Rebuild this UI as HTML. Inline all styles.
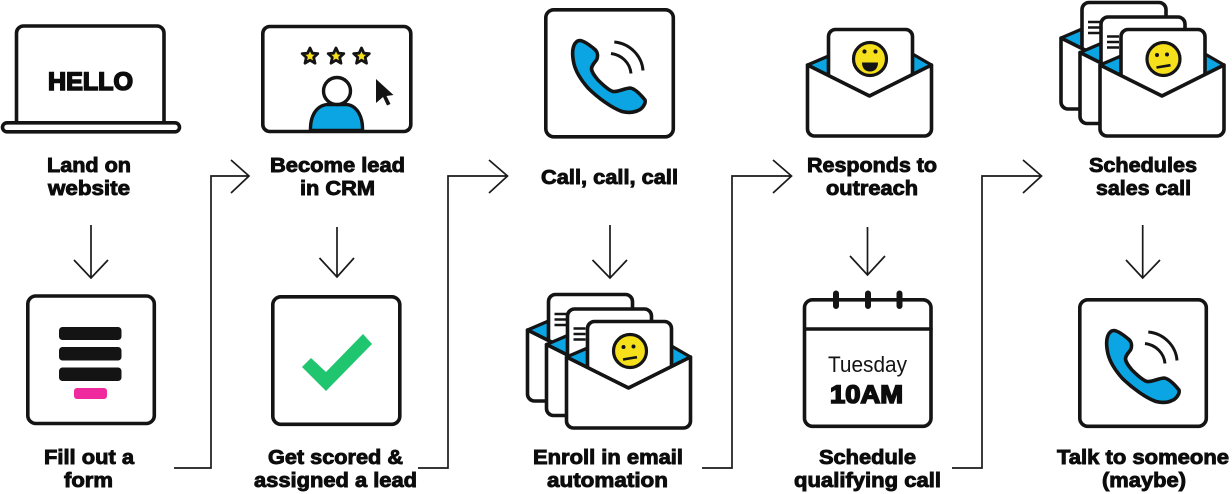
<!DOCTYPE html>
<html>
<head>
<meta charset="utf-8">
<style>
html,body{margin:0;padding:0;background:#fff;width:1232px;height:494px;overflow:hidden}
svg{display:block}
.l{font-family:"Liberation Sans",sans-serif;font-weight:700;font-size:20px;fill:#0c0c0c;stroke:#0c0c0c;stroke-width:.9px}
.b{fill:none;stroke:#141414;stroke-width:3.6;stroke-linejoin:round;stroke-linecap:round}
.w{fill:#fff;stroke:#141414;stroke-width:3.6;stroke-linejoin:round}
.c{fill:none;stroke:#1a1a1a;stroke-width:1.7}
</style>
</head>
<body>
<svg width="1232" height="494" viewBox="0 0 1232 494" xmlns="http://www.w3.org/2000/svg">
<defs>
<g id="phone">
<path d="M580,40.5 C585,41 592,47 595.5,50 C598,53 598,57 596.5,60 C594,63 591.5,66 591.5,69 C592,73 595,76.5 598,80 C602,84 608,90 613,91.5 C618,92 624,88.5 630,88 C635,88.5 641,95 645,100 C646,104 642,109 638,110.5 C633,113 628,113 622,111.5 C612,108 598,98 588,88 C581,80 576,72 574,64 C572,55 572,48 575,43.5 C577,41 578,40.5 580,40.5 Z" fill="#0aa5e2" stroke="#141414" stroke-width="3.6" stroke-linejoin="round"/>
<path d="M614.3,42 C630,43.5 642,56 643,70.5" fill="none" stroke="#141414" stroke-width="3"/>
<path d="M611,53.5 C622,55 630,63 631,73.5" fill="none" stroke="#141414" stroke-width="3"/>
</g>
<g id="env">
<path d="M-62,-31 L-41,-40 V-20 Z" fill="#0aa5e2" stroke="#141414" stroke-width="3.2" stroke-linejoin="round"/>
<path d="M43,-42 L62,-31 L43,-21 Z" fill="#0aa5e2" stroke="#141414" stroke-width="3.2" stroke-linejoin="round"/>
<path d="M-41,-20 V-59.5 a7,7 0 0 1 7,-7 H36 a7,7 0 0 1 7,7 V-21 L0,0 Z" class="w"/>
<path d="M-62,-31 L0,0 L62,-31 V33 a7,7 0 0 1 -7,7 H-55 a7,7 0 0 1 -7,-7 Z" class="w"/>
</g>
<g id="lines">
<path d="M-35,-47 H-23 M-35,-41.5 H-23 M-35,-36 H-23" stroke="#141414" stroke-width="2.6" fill="none"/>
</g>
<g id="neutral">
<circle cx="1.5" cy="-37" r="16.5" fill="#f6e01c" stroke="#141414" stroke-width="3.2"/>
<circle cx="-5" cy="-41" r="2" fill="#141414"/>
<circle cx="5" cy="-41.5" r="2" fill="#141414"/>
<path d="M-5.5,-28.5 L8.5,-30.8" stroke="#141414" stroke-width="2.6" fill="none"/>
</g>
<g id="stack">
<use href="#env" x="-39" y="-27"/>
<use href="#lines" x="-39" y="-27"/>
<use href="#env" x="-20" y="-12.5"/>
<use href="#lines" x="-20" y="-12.5"/>
<use href="#env"/>
<use href="#neutral"/>
</g>
<path id="star" d="M0,-8 L2.4,-2.8 L7.8,-2.4 L3.7,1.4 L5,7.2 L0,4.2 L-5,7.2 L-3.7,1.4 L-7.8,-2.4 L-2.4,-2.8 Z" fill="#f6e01c" stroke="#141414" stroke-width="2.8" stroke-linejoin="round"/>
</defs>

<!-- connectors -->
<g class="c">
<path d="M91,225 V278 M74,260 L91,278 L108,260"/>
<path d="M337,227 V277 M319.5,258 L337,277 L354,258"/>
<path d="M610,225 V278 M592.5,260 L610,278 L627,260"/>
<path d="M867.5,227 V275 M850,256 L867.5,275 L885,256"/>
<path d="M1142.7,225 V278 M1126,260 L1142.7,278 L1160,260"/>
<path d="M174,468 H211 V176 H248.5 M231,160 L249,176 L231,193"/>
<path d="M418,468 H448 V176 H507.5 M489,160 L507.5,176 L489,193"/>
<path d="M702,468 H732 V176 H791.5 M773,160 L791.5,176 L773,193"/>
<path d="M952,468 H982 V176 H1041.5 M1023,160 L1041.5,176 L1023,193"/>
</g>

<!-- laptop -->
<path d="M16.5,122 V33 a7,7 0 0 1 7,-7 H157 a7,7 0 0 1 7,7 V122" class="b"/>
<rect x="2.5" y="122.8" width="177" height="9" rx="4.5" class="w"/>
<text x="48" y="90" font-family="Liberation Sans" font-weight="700" font-size="25" fill="#0c0c0c" stroke="#0c0c0c" stroke-width="1.6" textLength="85" lengthAdjust="spacingAndGlyphs">HELLO</text>

<!-- CRM -->
<rect x="262.8" y="26.5" width="148" height="105" rx="7" class="w"/>
<use href="#star" x="310" y="56"/>
<use href="#star" x="336" y="56"/>
<use href="#star" x="361.5" y="56"/>
<path d="M310.5,130.5 C310,118 315,106 327,104.5 H347 C358,106 363,118 362.5,130.5 Z" fill="#0aa5e2" stroke="#141414" stroke-width="3.4" stroke-linejoin="round"/>
<circle cx="337" cy="91" r="13.5" fill="#fff" stroke="#141414" stroke-width="3.4"/>
<path d="M376,79 V103 L383,97 L387,105.5 L390.5,104 L386.5,96 L393.5,95 Z" fill="#141414"/>

<!-- form -->
<rect x="27.8" y="296" width="126.5" height="127.5" rx="8" class="w"/>
<rect x="59" y="327" width="62.5" height="13" rx="3.5" fill="#141414"/>
<rect x="59" y="347" width="62.5" height="13.5" rx="3.5" fill="#141414"/>
<rect x="59" y="367.5" width="62.5" height="13.5" rx="3.5" fill="#141414"/>
<rect x="74" y="388" width="33" height="11" rx="3" fill="#ee2a9e"/>

<!-- check -->
<rect x="272.8" y="296.8" width="127" height="127.5" rx="8" class="w"/>
<path d="M302,367 L311,358 L326,372 L363,334 L372,344 L326,391 Z" fill="#1fc66f"/>

<!-- phone 1 -->
<rect x="545.8" y="9.8" width="127.5" height="127" rx="8" class="w"/>
<use href="#phone"/>

<!-- enroll stack -->
<use href="#stack" x="628.5" y="388"/>

<!-- responds -->
<use href="#env" x="869.5" y="96"/>
<circle cx="870" cy="59" r="16.5" fill="#f6e01c" stroke="#141414" stroke-width="3.2"/>
<circle cx="864.5" cy="51.5" r="2.1" fill="#141414"/>
<circle cx="875.5" cy="51.5" r="2.1" fill="#141414"/>
<path d="M862,62.5 H878 C878,68 875,71.5 870,71.5 C865,71.5 862,68 862,62.5 Z" fill="#141414"/>

<!-- schedules stack -->
<use href="#stack" x="1162" y="96"/>

<!-- calendar -->
<rect x="804.5" y="299.8" width="126.5" height="126.5" rx="8" class="w"/>
<path d="M805,329 H931" class="b" stroke-linecap="butt"/>
<path d="M836,293.5 V306 M868,293.5 V306 M899.5,293.5 V306" stroke="#141414" stroke-width="6" stroke-linecap="round" fill="none"/>
<text x="828" y="372" font-family="Liberation Sans" font-size="22" fill="#141414" textLength="79" lengthAdjust="spacingAndGlyphs">Tuesday</text>
<text x="830" y="403" font-family="Liberation Sans" font-weight="700" font-size="25" fill="#0c0c0c" stroke="#0c0c0c" stroke-width="1.6" textLength="73" lengthAdjust="spacingAndGlyphs">10AM</text>

<!-- phone 2 -->
<rect x="1079.8" y="299.8" width="126.5" height="126.5" rx="8" class="w"/>
<use href="#phone" x="534" y="290"/>

<!-- labels -->
<text class="l" x="47" y="172" textLength="84" lengthAdjust="spacingAndGlyphs">Land on</text>
<text class="l" x="48" y="195" textLength="82" lengthAdjust="spacingAndGlyphs">website</text>
<text class="l" x="270" y="172" textLength="135" lengthAdjust="spacingAndGlyphs">Become lead</text>
<text class="l" x="300" y="195" textLength="75" lengthAdjust="spacingAndGlyphs">in CRM</text>
<text class="l" x="541" y="184" textLength="137" lengthAdjust="spacingAndGlyphs">Call, call, call</text>
<text class="l" x="807" y="172" textLength="130" lengthAdjust="spacingAndGlyphs">Responds to</text>
<text class="l" x="826" y="195" textLength="92" lengthAdjust="spacingAndGlyphs">outreach</text>
<text class="l" x="1089" y="172" textLength="108" lengthAdjust="spacingAndGlyphs">Schedules</text>
<text class="l" x="1096" y="195" textLength="95" lengthAdjust="spacingAndGlyphs">sales call</text>
<text class="l" x="44" y="464" textLength="90" lengthAdjust="spacingAndGlyphs">Fill out a</text>
<text class="l" x="64" y="487" textLength="49" lengthAdjust="spacingAndGlyphs">form</text>
<text class="l" x="268" y="464" textLength="135" lengthAdjust="spacingAndGlyphs">Get scored &amp;</text>
<text class="l" x="254" y="487" textLength="163" lengthAdjust="spacingAndGlyphs">assigned a lead</text>
<text class="l" x="533" y="464" textLength="150" lengthAdjust="spacingAndGlyphs">Enroll in email</text>
<text class="l" x="547" y="487" textLength="121" lengthAdjust="spacingAndGlyphs">automation</text>
<text class="l" x="819" y="464" textLength="97" lengthAdjust="spacingAndGlyphs">Schedule</text>
<text class="l" x="794" y="487" textLength="147" lengthAdjust="spacingAndGlyphs">qualifying call</text>
<text class="l" x="1057" y="464" textLength="172" lengthAdjust="spacingAndGlyphs">Talk to someone</text>
<text class="l" x="1102" y="487" textLength="84" lengthAdjust="spacingAndGlyphs">(maybe)</text>
</svg>
</body>
</html>
